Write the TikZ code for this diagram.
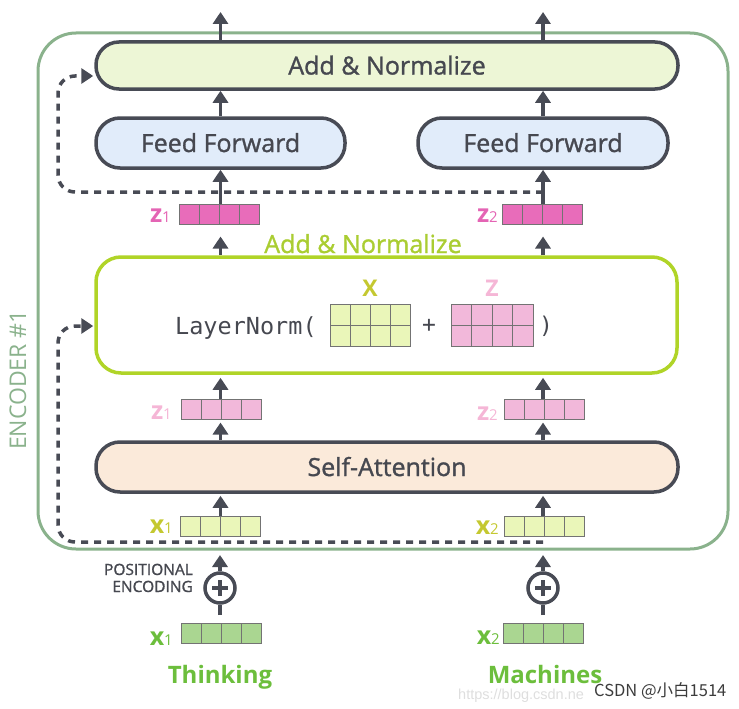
\documentclass[tikz,border=0pt]{standalone}
\usepackage{fontspec}
\setmainfont{Open Sans}
\setmonofont{DejaVu Sans Mono}
\newfontfamily\cjk{Noto Sans CJK SC}
\newfontfamily\semib[FakeBold=1.2]{Open Sans}
\newfontfamily\urlfont{Liberation Sans}
\usetikzlibrary{arrows.meta,calc}
\definecolor{dk}{RGB}{72,75,85}
\definecolor{txt}{RGB}{70,72,80}
\definecolor{encg}{RGB}{138,178,140}
\definecolor{anfill}{RGB}{237,246,214}
\definecolor{fffill}{RGB}{225,236,250}
\definecolor{safill}{RGB}{251,234,218}
\definecolor{lime}{RGB}{176,212,40}
\definecolor{limet}{RGB}{170,205,50}
\definecolor{zdk}{RGB}{232,108,186}
\definecolor{zdkt}{RGB}{228,100,180}
\definecolor{zlt}{RGB}{242,184,218}
\definecolor{zltt}{RGB}{245,182,214}
\definecolor{xlt}{RGB}{234,246,185}
\definecolor{xltt}{RGB}{196,200,48}
\definecolor{xg}{RGB}{170,214,145}
\definecolor{xgt}{RGB}{108,190,60}
\definecolor{cellg}{RGB}{115,115,115}
\definecolor{wm}{RGB}{60,60,60}
\definecolor{wmf}{RGB}{222,222,222}
\newcommand{\vl}[2]{{\bfseries #1}{\fontsize{15}{15}\selectfont #2}}
\tikzset{
  pill/.style={draw=dk, line width=3.5pt, text=txt, font=\semib\fontsize{25}{29}\selectfont, text height=18pt, text depth=0pt},
  vec/.style={draw=cellg, line width=1pt, minimum width=80pt, minimum height=20pt, inner sep=0pt,
    path picture={\foreach \k in {1,2,3}{\draw[cellg,line width=1pt]
      ($(path picture bounding box.south west)!\k/4!(path picture bounding box.south east)$) --
      ($(path picture bounding box.north west)!\k/4!(path picture bounding box.north east)$);}}},
  mat/.style={draw=cellg, line width=1pt, minimum width=80pt, minimum height=42pt, inner sep=0pt,
    path picture={\foreach \k in {1,2,3}{\draw[cellg,line width=1pt]
      ($(path picture bounding box.south west)!\k/4!(path picture bounding box.south east)$) --
      ($(path picture bounding box.north west)!\k/4!(path picture bounding box.north east)$);}
      \draw[cellg,line width=1pt] (path picture bounding box.west) -- (path picture bounding box.east);}},
  vlab/.style={anchor=base east, inner sep=0pt, font=\fontsize{25}{25}\selectfont},
  arr/.style={draw=dk, line width=3.5pt, -{Triangle[width=15pt,length=12pt]}},
  dsh/.style={draw=dk, line width=3.5pt, dash pattern=on 7pt off 6pt, rounded corners=17pt, -{Triangle[width=15pt,length=12pt]}},
  oplus/.style={circle, draw=dk, line width=3.5pt, minimum size=30pt, inner sep=0pt,
    path picture={\draw[dk,line width=3.5pt] ([xshift=-8pt]path picture bounding box.center) -- ([xshift=8pt]path picture bounding box.center);
      \draw[dk,line width=3.5pt] ([yshift=-8pt]path picture bounding box.center) -- ([yshift=8pt]path picture bounding box.center);}},
  word/.style={anchor=base, inner sep=0pt, text=xgt, font=\fontsize{24}{24}\selectfont\bfseries},
  postext/.style={anchor=base east, inner sep=0pt, text=txt, font=\semib\fontsize{15.5}{15.5}\selectfont}
}
\begin{document}
\begin{tikzpicture}[x=1pt,y=-1pt]
\useasboundingbox (0,0) rectangle (739,709);
% encoder frame
\node[draw=encg, line width=3pt, rounded corners=38pt, minimum width=690pt, minimum height=516pt, inner sep=0pt] (enc) at (383,291) {};
\node[rotate=90, text=encg, inner sep=0pt, font=\fontsize{23}{23}\selectfont] (enct) at (18,380) {ENCODER \#1};
% top layers
\node[pill, fill=anfill, minimum width=582pt, minimum height=47pt, rounded corners=23pt] (an) at (387,65.5) {Add \& Normalize};
\node[pill, fill=fffill, minimum width=249pt, minimum height=50pt, rounded corners=24pt] (ff1) at (220.5,143) {Feed Forward};
\node[pill, fill=fffill, minimum width=250pt, minimum height=50pt, rounded corners=24pt] (ff2) at (543,143) {Feed Forward};
\coordinate (o1) at (220.5,12);
\coordinate (o2) at (543,12);
% z dark
\node[vec, fill=zdk] (z1d) at (219,214) {};
\node[vec, fill=zdk] (z2d) at (542,214) {};
\node[vlab, text=zdkt] (z1dl) at (171,222) {\vl{z}{1}};
\node[vlab, text=zdkt] (z2dl) at (498,222) {\vl{z}{2}};
% add & normalize box
\node[anchor=base, inner sep=0pt, text=limet, font=\semib\fontsize{25}{25}\selectfont] (anl) at (363,253) {Add \& Normalize};
\node[draw=lime, line width=3.5pt, rounded corners=25pt, minimum width=581pt, minimum height=116pt, inner sep=0pt] (ln) at (386.5,315) {};
\node[anchor=base west, inner sep=0pt, text=txt, font=\ttfamily\fontsize{23.5}{23.5}\selectfont] (lnt) at (175,334) {LayerNorm(};
\node[mat, fill=xlt] (mx) at (370,325) {};
\node[mat, fill=zlt, minimum width=82pt] (mz) at (492,325) {};
\node[anchor=base, inner sep=0pt, text=xltt, font=\fontsize{23}{23}\selectfont\bfseries] (mxl) at (370,296) {X};
\node[anchor=base, inner sep=0pt, text=zltt, font=\fontsize{23}{23}\selectfont\bfseries] (mzl) at (492,296) {Z};
\node[inner sep=0pt, text=txt, font=\ttfamily\fontsize{23}{23}\selectfont] (pl) at (429,326) {+};
\node[inner sep=0pt, text=txt, font=\ttfamily\fontsize{23}{23}\selectfont] (rp) at (546,326) {)};
% z light
\node[vec, fill=zlt] (z1l) at (221,409) {};
\node[vec, fill=zlt] (z2l) at (544,409) {};
\node[vlab, text=zltt] (z1ll) at (172,419) {\vl{z}{1}};
\node[vlab, text=zltt] (z2ll) at (498,420) {\vl{z}{2}};
% self attention
\node[pill, fill=safill, minimum width=582pt, minimum height=50pt, rounded corners=24pt] (sa) at (387,467) {Self-Attention};
% x light
\node[vec, fill=xlt] (x1l) at (220.5,526.5) {};
\node[vec, fill=xlt] (x2l) at (544,526.5) {};
\node[vlab, text=xltt] (x1ll) at (173,533) {\vl{x}{1}};
\node[vlab, text=xltt] (x2ll) at (499,534) {\vl{x}{2}};
% positional encoding
\node[oplus] (pe1) at (220,588) {};
\node[oplus] (pe2) at (543,588) {};
\node[postext] (pt1) at (193,575) {POSITIONAL};
\node[postext] (pt2) at (193,592) {ENCODING};
\coordinate (e1) at (220,555);
\coordinate (e2) at (543,555);
% embeddings
\node[vec, fill=xg] (x1g) at (221,633.5) {};
\node[vec, fill=xg] (x2g) at (543,633.5) {};
\node[vlab, text=xgt] (x1gl) at (173,645) {\vl{x}{1}};
\node[vlab, text=xgt] (x2gl) at (500,644) {\vl{x}{2}};
\node[word] (w1) at (220,683) {Thinking};
\node[word] (w2) at (545,683) {Machines};
% watermark
\node[anchor=base west, inner sep=0pt, text=wmf, font=\urlfont\fontsize{14.5}{14.5}\selectfont] (url) at (458,699) {https://blog.csdn.ne};
\node[anchor=base west, inner sep=0pt, text=wm, font=\cjk\fontsize{16.5}{16.5}\selectfont] (csdn) at (594,696) {CSDN @小白1514};
% arrows
\draw[arr] (an.north -| ff1.north) -- (o1);
\draw[arr] (an.north -| ff2.north) -- (o2);
\draw[arr] (ff1.north) -- (an.south -| ff1.north);
\draw[arr] (ff2.north) -- (an.south -| ff2.north);
\draw[arr] (z1d.north -| ff1.south) -- (ff1.south);
\draw[arr] (z2d.north -| ff2.south) -- (ff2.south);
\draw[arr, shorten >=12pt] (ln.north -| ff1.south) -- (z1d.south -| ff1.south);
\draw[arr, shorten >=12pt] (ln.north -| ff2.south) -- (z2d.south -| ff2.south);
\draw[arr, shorten >=3pt] (z1l.north -| ff1.south) -- (ln.south -| ff1.south);
\draw[arr, shorten >=3pt] (z2l.north -| ff2.south) -- (ln.south -| ff2.south);
\draw[arr, shorten >=3pt] (sa.north -| ff1.south) -- (z1l.south -| ff1.south);
\draw[arr, shorten >=3pt] (sa.north -| ff2.south) -- (z2l.south -| ff2.south);
\draw[arr, shorten >=2pt] (x1l.north -| ff1.south) -- (sa.south -| ff1.south);
\draw[arr, shorten >=2pt] (x2l.north -| ff2.south) -- (sa.south -| ff2.south);
\draw[arr] (pe1.north) -- (e1);
\draw[arr] (pe2.north) -- (e2);
\draw[dk, line width=3.5pt, shorten <=8pt] (x1g.north -| pe1.south) -- (pe1.south);
\draw[dk, line width=3.5pt, shorten <=8pt] (x2g.north -| pe2.south) -- (pe2.south);
% residual connections
\coordinate (r1) at (543,192);
\coordinate (c1) at (58,192);
\coordinate (r2) at (543,542);
\coordinate (c2) at (58,542);
\draw[dsh] (r1) -- (c1) -- ($(c1 |- an.west)+(0pt,-10.5pt)$) -- ($(an.west)+(-1pt,-10.5pt)$);
\draw[dsh] (r2) -- (c2) -- ($(c2 |- ln.west)+(0pt,-11pt)$) -- ($(ln.west)+(-1pt,-11pt)$);
\end{tikzpicture}
\end{document}
